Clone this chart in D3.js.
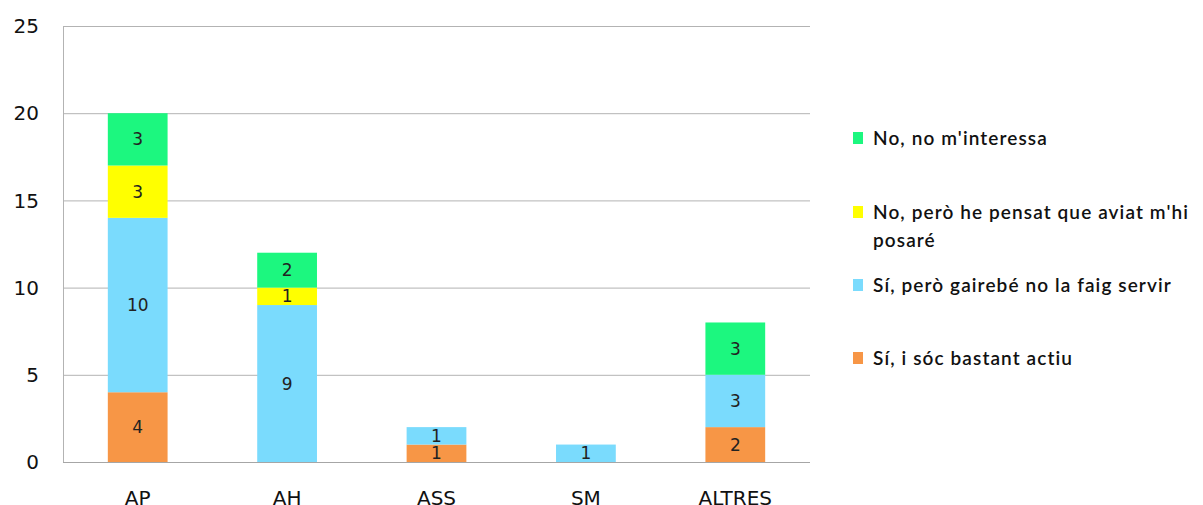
<!DOCTYPE html>
<html><head><meta charset="utf-8">
<script src="https://cdn.jsdelivr.net/npm/d3@7"></script>
<style>body{margin:0;background:#fff}svg{display:block}</style>
</head><body>
<svg id="c" width="1203" height="505"></svg>
<script>
const categories = ["AP","AH","ASS","SM","ALTRES"];
const seriesNames = ["Sí, i sóc bastant actiu","Sí, però gairebé no la faig servir","No, però he pensat que aviat m'hi posaré","No, no m'interessa"];
const activeVals = [4,0,1,0,2];
const rarelyVals = [10,9,1,1,3];
const soonVals = [3,1,0,0,0];
const notInterestedVals = [3,2,0,0,3];
const yTicks = [0,5,10,15,20,25];
const colors = ["#F79646","#7ADBFD","#FFFF00","#1CF77F"];
const legendLines = [["No, no m'interessa"],["No, però he pensat que aviat m'hi","posaré"],["Sí, però gairebé no la faig servir"],["Sí, i sóc bastant actiu"]];

const series = [activeVals, rarelyVals, soonVals, notInterestedVals];
const rows = categories.map((c,i)=>{const r={cat:c}; seriesNames.forEach((s,j)=>r[s]=series[j][i]); return r;});
const stacked = d3.stack().keys(seriesNames)(rows);

const svg = d3.select("#c");
const L=63,R=810,T=26,B=462;
const x = d3.scaleBand().domain(categories).range([L,R]).paddingInner(0.6).paddingOuter(0.3);
const y = d3.scaleLinear().domain([0,25]).range([B,T]);

// grid
svg.append("g").selectAll("line").data(yTicks.filter(d=>d>0)).join("line")
  .attr("x1",L).attr("x2",R).attr("y1",d=>y(d)+0.5).attr("y2",d=>y(d)+0.5)
  .attr("stroke","#B3B3B3").attr("stroke-width",1);

// y labels
svg.append("g").selectAll("text").data(yTicks).join("text")
  .attr("x",39).attr("y",d=>y(d)).attr("dy","0.36em").attr("text-anchor","end")
  .attr("font-family","DejaVu Sans").attr("font-size",20).attr("fill","#111").text(d=>d);

// bars
const gs = svg.append("g").selectAll("g").data(stacked).join("g").attr("fill",(d,i)=>colors[i]);
gs.selectAll("rect").data(d=>d.filter(p=>p[1]-p[0]>0)).join("rect")
  .attr("x",d=>x(d.data.cat)).attr("width",x.bandwidth())
  .attr("y",d=>y(d[1])).attr("height",d=>y(d[0])-y(d[1]));

// value labels
stacked.forEach(s=>{
  svg.append("g").selectAll("text").data(s.filter(p=>p[1]-p[0]>0)).join("text")
   .attr("x",d=>x(d.data.cat)+x.bandwidth()/2).attr("y",d=>y((d[0]+d[1])/2)).attr("dy","0.36em")
   .attr("text-anchor","middle").attr("font-family","DejaVu Sans").attr("font-size",17).attr("fill","#222")
   .text(d=>d[1]-d[0]);
});

// axes lines
svg.append("line").attr("x1",L+0.5).attr("x2",L+0.5).attr("y1",T).attr("y2",B+1).attr("stroke","#B3B3B3");
svg.append("line").attr("x1",L).attr("x2",R).attr("y1",B+0.5).attr("y2",B+0.5).attr("stroke","#A6A6A6");

// x labels
svg.append("g").selectAll("text").data(categories).join("text")
  .attr("x",d=>x(d)+x.bandwidth()/2).attr("y",505).attr("text-anchor","middle")
  .attr("font-family","DejaVu Sans").attr("font-size",20).attr("fill","#111").text(d=>d);

// legend
const legY=[138,212,285,358];
const leg = svg.append("g");
legendLines.forEach((lines,i)=>{
  const ci = 3-i;
  leg.append("rect").attr("x",853).attr("y",legY[i]-6).attr("width",10).attr("height",12).attr("fill",colors[ci]);
  lines.forEach((t,k)=>{
    leg.append("text").attr("x",873).attr("y",legY[i]+k*28).attr("dy","0.36em")
      .attr("font-family","Lato").attr("font-size",19).attr("font-weight",600)
      .attr("letter-spacing",1.1).attr("fill","#111").text(t);
  });
});
</script>
</body></html>
